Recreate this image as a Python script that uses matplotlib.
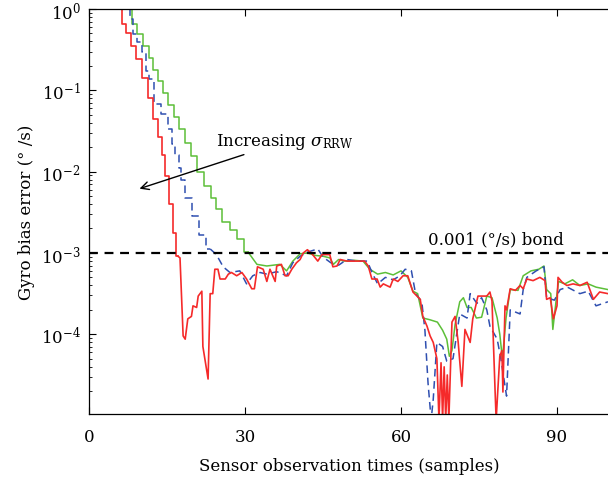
"""
Gyro bias error vs. sensor observation time for three RRW settings.
Values are read in decades (log10 of the error in deg/s).
"""

import numpy as np
import matplotlib
matplotlib.use("Agg")
import matplotlib.pyplot as plt

# ---------------------------------------------------------------------------
# Data (x in samples, y as log10 of bias error)
# ---------------------------------------------------------------------------

green_x = [7.0, 7.8, 8.7, 9.9, 10.9, 12.0, 12.8, 13.8, 14.8, 15.7, 16.8, 17.8, 19.0,
           20.1, 21.3, 22.9, 24.0, 24.8, 26.5, 27.8, 29.0, 30.6, 32.3, 34.2, 36.7,
           38.0, 39.2, 40.6, 42.0, 43.5, 45.0, 46.3, 47.0, 48.0, 49.0, 51.0, 52.7,
           54.0, 55.5, 57.0, 58.5, 60.0, 61.3, 62.3, 63.2, 64.2, 65.5, 67.0, 68.0,
           68.8, 69.3, 69.8, 70.4, 71.3, 72.0, 72.7, 73.5, 74.5, 75.5, 76.5, 77.5,
           78.5, 79.0, 79.5, 80.2, 81.0, 82.5, 83.5, 85.0, 86.5, 87.5, 88.0, 88.8,
           89.2, 89.8, 90.3, 91.5, 93.0, 94.4, 96.0, 97.5, 99.8]
green_log = [0.10, 0.00, -0.18, -0.31, -0.46, -0.60, -0.75, -0.89, -1.03, -1.18, -1.33,
             -1.48, -1.65, -1.81, -2.00, -2.18, -2.33, -2.46, -2.62, -2.72, -2.83, -2.99,
             -3.14, -3.16, -3.14, -3.22, -3.10, -3.01, -3.00, -3.03, -3.04, -3.06, -3.14,
             -3.08, -3.10, -3.09, -3.10, -3.20, -3.26, -3.24, -3.27, -3.22, -3.30, -3.47,
             -3.50, -3.80, -3.82, -3.85, -3.95, -4.06, -4.27, -4.20, -3.88, -3.60, -3.55,
             -3.67, -3.67, -3.80, -3.79, -3.53, -3.55, -3.80, -4.00, -4.30, -3.80, -3.45,
             -3.46, -3.28, -3.22, -3.20, -3.16, -3.45, -3.50, -3.94, -3.60, -3.35, -3.38,
             -3.33, -3.40, -3.38, -3.42, -3.45]

blue_x = [7.0, 7.7, 8.0, 9.0, 9.6, 10.8, 11.1, 12.1, 12.8, 14.8, 15.7, 16.2, 17.0, 17.5,
          18.0, 19.0, 20.7, 21.7, 23.3, 24.5, 25.8, 27.1, 29.0, 30.3, 31.5, 32.9, 34.2,
          36.1, 38.0, 39.2, 40.6, 42.0, 44.0, 45.0, 46.5, 48.0, 49.6, 51.5, 53.5, 54.5,
          55.5, 57.0, 58.5, 59.8, 60.8, 62.0, 62.8, 64.0, 64.6, 65.2, 65.8, 66.2, 66.9,
          68.0, 68.8, 70.0, 71.3, 72.7, 73.3, 74.6, 75.5, 76.5, 77.1, 78.5, 79.2, 80.3,
          81.0, 82.9, 83.5, 84.2, 86.0, 87.5, 88.0, 89.5, 90.6, 92.0, 94.4, 96.0, 97.5,
          99.8]
blue_log = [0.10, 0.00, -0.12, -0.31, -0.41, -0.53, -0.76, -0.86, -1.17, -1.29, -1.48,
            -1.66, -1.80, -1.95, -2.10, -2.33, -2.55, -2.78, -2.95, -3.02, -3.17, -3.24,
            -3.22, -3.38, -3.28, -3.24, -3.26, -3.23, -3.28, -3.12, -3.04, -2.99, -2.95,
            -3.05, -3.12, -3.15, -3.08, -3.10, -3.10, -3.25, -3.38, -3.30, -3.33, -3.28,
            -3.20, -3.22, -3.50, -3.60, -3.95, -4.60, -5.05, -4.80, -4.10, -4.15, -4.33,
            -4.30, -3.75, -3.80, -3.50, -3.62, -3.55, -3.70, -3.90, -4.06, -4.30, -4.76,
            -3.70, -3.75, -3.45, -3.30, -3.22, -3.17, -3.55, -3.58, -3.45, -3.42, -3.50,
            -3.47, -3.65, -3.60]

red_x = [5.0, 5.8, 6.7, 7.7, 8.3, 9.6, 10.8, 11.9, 12.8, 13.8, 14.2, 14.9, 15.9, 16.5,
         17.1, 17.5, 18.1, 18.5, 19.0, 19.7, 20.0, 20.7, 21.0, 21.7, 21.9, 22.9, 23.3,
         23.8, 24.2, 24.8, 25.2, 26.2, 26.8, 27.4, 28.4, 29.4, 30.3, 31.3, 31.8, 32.4,
         33.5, 34.2, 34.8, 35.8, 36.1, 37.0, 37.7, 38.3, 39.0, 39.9, 40.6, 41.2, 42.0,
         43.0, 44.0, 44.8, 46.3, 46.9, 47.7, 48.3, 49.6, 51.5, 53.0, 53.7, 54.4, 55.4,
         56.0, 56.6, 57.9, 58.5, 59.4, 60.4, 61.3, 62.3, 63.7, 64.2, 65.0, 65.6, 66.2,
         66.9, 67.3, 67.7, 68.0, 68.3, 68.6, 68.9, 69.2, 69.8, 70.4, 71.0, 71.7, 72.3,
         73.3, 73.8, 74.8, 76.5, 77.1, 77.5, 77.7, 78.1, 78.3, 78.6, 79.0, 79.4, 79.6,
         80.0, 80.3, 81.0, 82.0, 82.9, 83.5, 84.2, 85.4, 86.7, 87.7, 88.0, 88.7, 89.3,
         90.0, 90.2, 91.0, 91.9, 93.1, 94.4, 95.8, 97.0, 98.2, 99.8]
red_log = [0.10, 0.00, -0.18, -0.30, -0.45, -0.62, -0.85, -1.10, -1.35, -1.57, -1.80,
           -2.05, -2.40, -2.75, -3.04, -3.06, -4.02, -4.06, -3.81, -3.78, -3.65, -3.67,
           -3.53, -3.47, -4.15, -4.55, -3.50, -3.50, -3.20, -3.20, -3.32, -3.32, -3.26,
           -3.24, -3.28, -3.24, -3.32, -3.44, -3.44, -3.17, -3.20, -3.35, -3.20, -3.35,
           -3.16, -3.14, -3.28, -3.28, -3.20, -3.12, -3.08, -3.00, -2.96, -3.02, -3.10,
           -3.02, -3.02, -3.17, -3.16, -3.08, -3.10, -3.10, -3.10, -3.16, -3.32, -3.32,
           -3.42, -3.38, -3.42, -3.32, -3.35, -3.28, -3.28, -3.48, -3.57, -3.78, -3.90,
           -4.02, -4.10, -4.30, -5.05, -4.35, -5.05, -4.40, -5.05, -4.50, -5.05, -3.85,
           -3.78, -4.10, -4.64, -3.94, -4.10, -3.81, -3.53, -3.53, -3.48, -3.59, -3.97,
           -4.71, -5.05, -4.71, -4.27, -4.20, -4.71, -3.65, -3.70, -3.44, -3.46, -3.40,
           -3.44, -3.32, -3.34, -3.30, -3.34, -3.57, -3.55, -3.81, -3.65, -3.30, -3.36,
           -3.40, -3.38, -3.40, -3.36, -3.57, -3.48, -3.50]

# where the staircase part of each curve ends (sample index)
green_step_end = 21
blue_step_end = 18
red_step_end = 14

bound = 1e-3
x_ticks = [0, 30, 60, 90]

# ---------------------------------------------------------------------------
# Style
# ---------------------------------------------------------------------------

plt.rcParams["font.family"] = ["DejaVu Serif"]
plt.rcParams["mathtext.fontset"] = "dejavuserif"
FS = 12

fig = plt.figure(figsize=(6.08, 4.85), dpi=100)
ax = fig.add_axes([89 / 608, 70 / 485, 520 / 608, 405 / 485])


def draw(x, logv, k, **kw):
    # early convergence drawn as a staircase, the rest as a plain line
    x = np.array(x)
    v = 10 ** np.array(logv)
    ax.plot(x[:k + 1], v[:k + 1], drawstyle="steps-mid", **kw)
    ax.plot(x[k:], v[k:], **kw)


draw(green_x, green_log, green_step_end, color="#5cbf38", lw=1.1)
draw(blue_x, blue_log, blue_step_end, color="#2f4fb0", lw=1.1, ls=(0, (5, 3)))
draw(red_x, red_log, red_step_end, color="#f52a2a", lw=1.2)
ax.axhline(bound, color="black", lw=1.6, ls=(0, (4, 3)))

ax.set_yscale("log")
ax.set_xlim(0, 100)
ax.set_ylim(10 ** -4.98, 1)
ax.set_xticks(x_ticks)
ax.set_yticks([1, 1e-1, 1e-2, 1e-3, 1e-4])
ax.tick_params(which="both", direction="in", top=True, right=False, labelsize=FS)
ax.tick_params(which="major", length=5, width=0.8)
ax.tick_params(which="minor", length=2.5, width=0.6)
ax.tick_params(axis="x", pad=10)
ax.tick_params(axis="y", pad=6)
for s in ax.spines.values():
    s.set_linewidth(0.9)

ax.set_xlabel("Sensor observation times (samples)", fontsize=FS, labelpad=9)
ax.set_ylabel("Gyro bias error (° /s)", fontsize=FS, labelpad=4)

# annotations
ax.annotate("", xy=(9.2, 10 ** -2.22), xytext=(30.3, 10 ** -1.78),
            arrowprops=dict(arrowstyle="->", color="black", lw=1.0,
                            mutation_scale=14))
ax.text(24.4, 10 ** -1.62, r"Increasing $\sigma_{\mathrm{RRW}}$", fontsize=FS,
        va="center", ha="left")
ax.text(65.2, 10 ** -2.83, "0.001 (°/s) bond", fontsize=FS, va="center", ha="left")

plt.savefig("out.png", dpi=100)
